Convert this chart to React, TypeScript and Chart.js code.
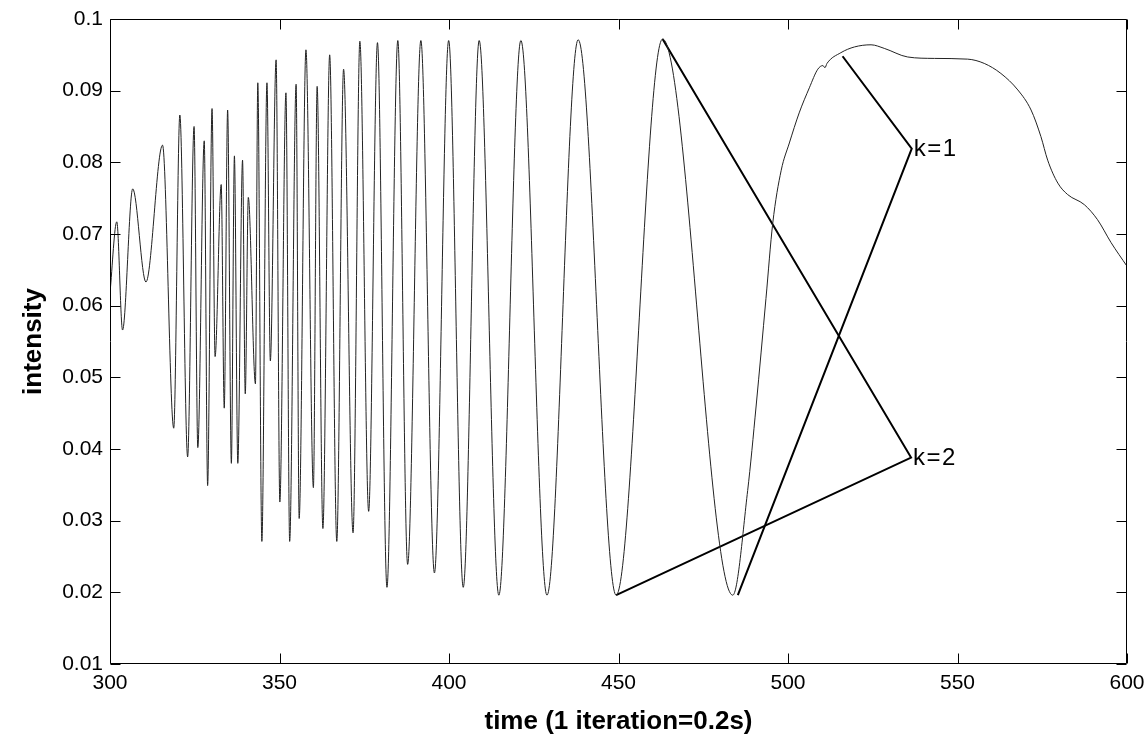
import React, { useEffect, useRef } from 'react';
import { Chart, registerables } from 'chart.js';

Chart.register(...registerables);

// ---- axis ticks ----
const xTickValues = [300, 350, 400, 450, 500, 550, 600];
const xTickLabels = ['300', '350', '400', '450', '500', '550', '600'];
const yTickValues = [0.01, 0.02, 0.03, 0.04, 0.05, 0.06, 0.07, 0.08, 0.09, 0.1];
const yTickLabels = ['0.01', '0.02', '0.03', '0.04', '0.05', '0.06', '0.07', '0.08', '0.09', '0.1'];

// ---- measured signal (time, intensity) ----
const signalT = [
  300.0, 302.0, 303.7, 306.7, 310.6, 315.5, 318.8, 320.6, 322.9, 324.8,
  325.9, 327.8, 328.8, 330.1, 331.0, 332.8, 333.7, 334.7, 335.8, 336.7,
  337.7, 339.1, 339.9, 340.8, 342.9, 343.6, 344.8, 346.3, 347.3, 349.0,
  350.1, 351.9, 353.0, 354.9, 355.8, 357.8, 360.0, 361.1, 362.8, 364.8,
  366.9, 368.9, 371.7, 373.7, 376.3, 378.9, 381.7, 384.9, 387.8, 391.7,
  395.7, 399.9, 404.2, 408.9, 414.7, 421.2, 428.9, 438.1, 449.3, 463.0,
  483.7, 488.1, 490.6, 493.5, 495.5, 498.0, 500.4, 503.3, 506.3, 508.8,
  510.3, 510.9, 511.5, 515.6, 519.6, 524.5, 528.4, 535.3, 543.2, 553.0,
  557.9, 562.8, 567.8, 571.7, 574.6, 576.6, 579.6, 582.5, 587.4, 591.3,
  595.3, 600.0,
];
const signalV = [
  0.0618, 0.0717, 0.0566, 0.0763, 0.0633, 0.0824, 0.0429, 0.0866, 0.0389, 0.0850,
  0.0402, 0.0830, 0.0349, 0.0875, 0.0529, 0.0769, 0.0457, 0.0873, 0.0380, 0.0809,
  0.0380, 0.0803, 0.0477, 0.0751, 0.0491, 0.0911, 0.0271, 0.0911, 0.0523, 0.0943,
  0.0326, 0.0897, 0.0271, 0.0909, 0.0303, 0.0957, 0.0346, 0.0906, 0.0289, 0.0950,
  0.0271, 0.0930, 0.0283, 0.0969, 0.0313, 0.0967, 0.0207, 0.0970, 0.0239, 0.0970,
  0.0227, 0.0970, 0.0207, 0.0970, 0.0196, 0.0970, 0.0196, 0.0971, 0.0196, 0.0972,
  0.0196, 0.0342, 0.0460, 0.0610, 0.0715, 0.0789, 0.0827, 0.0869, 0.0904, 0.0930,
  0.0935, 0.0932, 0.0938, 0.0953, 0.0961, 0.0964, 0.0959, 0.0947, 0.0945, 0.0944,
  0.0938, 0.0924, 0.0901, 0.0873, 0.0836, 0.0803, 0.0771, 0.0755, 0.0741, 0.0720,
  0.0688, 0.0655,
];

// ---- annotation lines ----
const k1LineT = [516.1, 536.5, 485.2];
const k1LineV = [0.0948, 0.0819, 0.0196];
const k2LineT = [463.0, 536.3, 449.3];
const k2LineV = [0.0972, 0.0388, 0.0196];
const kLabelText = ['k=1', 'k=2'];
const kLabelT = [536.5, 536.3];
const kLabelV = [0.0819, 0.0388];

const FONT = '"Liberation Sans", Arial, Helvetica, sans-serif';

const toPts = (t: number[], v: number[]) => t.map((x, i) => ({ x, y: v[i] }));

const framePlugin = {
  id: 'frameTicks',
  afterDraw(chart: any) {
    const { ctx, chartArea } = chart;
    const { left, right, top, bottom } = chartArea;
    const xs = chart.scales.x;
    const ys = chart.scales.y;
    const L = Math.round(left) + 0.5;
    const R = Math.round(right) - 0.5;
    const T = Math.round(top) + 0.5;
    const B = Math.round(bottom) - 0.5;
    ctx.save();
    ctx.strokeStyle = '#000';
    ctx.lineWidth = 1;
    ctx.beginPath();
    ctx.rect(L, T, R - L, B - T);
    const tl = 10;
    xTickValues.forEach((v) => {
      const px = Math.round(xs.getPixelForValue(v)) + 0.5;
      ctx.moveTo(px, B);
      ctx.lineTo(px, B - tl);
      ctx.moveTo(px, T);
      ctx.lineTo(px, T + tl);
    });
    yTickValues.forEach((v) => {
      const py = Math.round(ys.getPixelForValue(v)) + 0.5;
      ctx.moveTo(L, py);
      ctx.lineTo(L + tl, py);
      ctx.moveTo(R, py);
      ctx.lineTo(R - tl, py);
    });
    ctx.stroke();

    ctx.fillStyle = '#000';
    ctx.font = `24px ${FONT}`;
    try {
      (ctx as any).letterSpacing = '1.5px';
    } catch (e) {
      /* ignore */
    }
    ctx.textBaseline = 'middle';
    ctx.textAlign = 'left';
    kLabelText.forEach((txt, i) => {
      const px = xs.getPixelForValue(kLabelT[i]);
      const py = ys.getPixelForValue(kLabelV[i]);
      ctx.fillText(txt, px + 2, py + 1);
    });
    ctx.restore();
  },
};

export default function App() {
  const ref = useRef<HTMLCanvasElement | null>(null);

  useEffect(() => {
    if (!ref.current) return;
    const chart = new Chart(ref.current, {
      type: 'line',
      data: {
        datasets: [
          {
            data: toPts(signalT, signalV),
            borderColor: '#222',
            borderWidth: 1,
            pointRadius: 0,
            cubicInterpolationMode: 'monotone',
            fill: false,
          },
          {
            data: toPts(k2LineT, k2LineV),
            borderColor: '#000',
            borderWidth: 2,
            pointRadius: 0,
            tension: 0,
            fill: false,
          },
          {
            data: toPts(k1LineT, k1LineV),
            borderColor: '#000',
            borderWidth: 2,
            pointRadius: 0,
            tension: 0,
            fill: false,
          },
        ],
      },
      options: {
        animation: false,
        responsive: false,
        maintainAspectRatio: false,
        layout: { padding: { top: 19, right: 21, left: 0, bottom: 0 } },
        plugins: {
          legend: { display: false },
          tooltip: { enabled: false },
        },
        scales: {
          x: {
            type: 'linear',
            min: 300,
            max: 600,
            grid: { display: false, drawTicks: false, tickLength: 0 },
            border: { display: false },
            afterBuildTicks: (s: any) => {
              s.ticks = xTickValues.map((v) => ({ value: v }));
            },
            afterFit: (s: any) => {
              s.height = 76;
              s.paddingLeft = 0;
              s.paddingRight = 0;
            },
            ticks: {
              autoSkip: false,
              maxRotation: 0,
              padding: 7,
              color: '#000',
              font: { size: 21, family: FONT },
              callback: (v: any) => xTickLabels[xTickValues.indexOf(Number(v))] ?? '',
            },
            title: {
              display: true,
              text: 'time (1 iteration=0.2s)',
              color: '#000',
              font: { size: 26, weight: 'bold', family: FONT },
              padding: { top: 0, bottom: 3 },
            },
          },
          y: {
            type: 'linear',
            min: 0.01,
            max: 0.1,
            grid: { display: false, drawTicks: false, tickLength: 0 },
            border: { display: false },
            afterBuildTicks: (s: any) => {
              s.ticks = yTickValues.map((v) => ({ value: v }));
            },
            afterFit: (s: any) => {
              s.width = 110;
              s.paddingTop = 0;
              s.paddingBottom = 0;
            },
            ticks: {
              padding: 7,
              color: '#000',
              font: { size: 21, family: FONT },
              callback: (v: any) => {
                const i = yTickValues.findIndex((t) => Math.abs(t - Number(v)) < 1e-9);
                return i >= 0 ? yTickLabels[i] : '';
              },
            },
            title: {
              display: true,
              text: 'intensity',
              color: '#000',
              font: { size: 26, weight: 'bold', family: FONT },
              padding: { top: 18, bottom: 0 },
            },
          },
        },
      },
      plugins: [framePlugin],
    } as any);
    return () => chart.destroy();
  }, []);

  return (
    <div style={{ position: 'absolute', left: 0, top: 0, width: 1148, height: 740, background: '#fff' }}>
      <canvas ref={ref} width={1148} height={740} style={{ width: 1148, height: 740 }} />
    </div>
  );
}
